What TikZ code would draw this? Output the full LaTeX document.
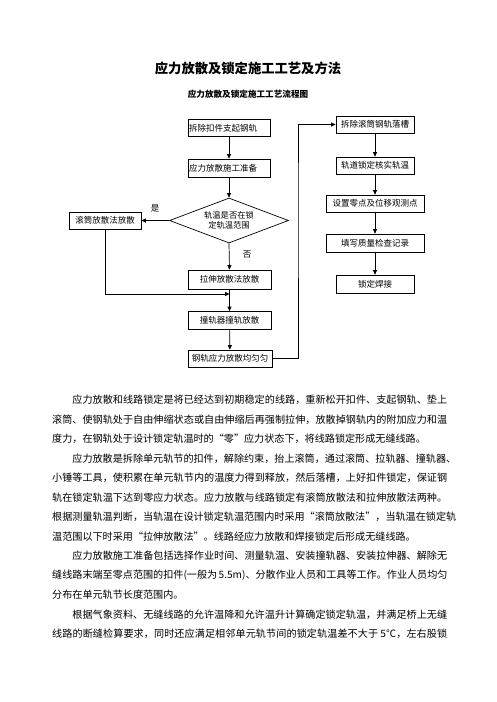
\documentclass[tikz,border=0pt]{standalone}
\usepackage{fontspec}
\setmainfont{Noto Sans CJK SC}
\usetikzlibrary{arrows.meta,shapes.geometric}
\newcount\cjkc
\cjkc="4E00
\loop \XeTeXcharclass\cjkc=1 \advance\cjkc by 1 \ifnum\cjkc<"A000 \repeat
\XeTeXcharclass"3001=1 \XeTeXcharclass"3002=1 \XeTeXcharclass"FF0C=1
\XeTeXcharclass"201C=1 \XeTeXcharclass"201D=1 \XeTeXcharclass"2103=1
\XeTeXinterchartoks 1 1 = {\hskip 0pt plus 1fil\relax}
\XeTeXinterchartoks 0 1 = {\hskip 0pt plus 1fil\relax}
\XeTeXinterchartoks 1 0 = {\hskip 0pt plus 1fil\relax}
\XeTeXinterchartokenstate=1
\newcommand\jfull[1]{\makebox[395pt][s]{#1}}
\newcommand\jind[1]{\makebox[374.8pt][s]{#1}}
\begin{document}
\begin{tikzpicture}[x=1pt,y=-1pt,
  box/.style={draw, line width=0.7pt, rectangle, inner sep=0pt, font=\fontsize{8.5pt}{10pt}\selectfont},
  arr/.style={line width=0.7pt, -{Triangle[length=4.5pt,width=4pt]}},
  lbl/.style={inner sep=0pt, font=\fontsize{8.5pt}{10pt}\selectfont},
  para/.style={anchor=west, inner sep=0pt, font=\fontsize{10.1pt}{12pt}\selectfont}]
\fill[white] (0,0) rectangle (496,702);
\useasboundingbox (0,0) rectangle (496,702);
% titles
\node[inner sep=0pt, font=\fontsize{13.3pt}{15pt}\selectfont\bfseries] (title) at (248,68) {\hbox{应力放散及锁定施工工艺及方法}};
\node[inner sep=0pt, font=\fontsize{8.6pt}{10pt}\selectfont\bfseries] (subtitle) at (248,94) {\hbox{应力放散及锁定施工工艺流程图}};
% left column
\node[box, minimum width=82pt, minimum height=17pt] (b1) at (229,128) {\makebox[80pt][l]{\hbox{拆除扣件支起钢轨}}};
\node[box, minimum width=82pt, minimum height=18pt] (b2) at (229,168) {\makebox[80pt][l]{\hbox{应力放散施工准备}}};
\node[diamond, draw, line width=0.7pt, minimum width=119pt, minimum height=45pt, aspect=2.6, inner sep=0pt, align=center, font=\fontsize{8.3pt}{10.5pt}\selectfont] (dia) at (229,220.5) {\hbox{轨温是否在锁}\\\hbox{定轨温范围}};
\node[box, minimum width=72pt, minimum height=17pt] (lb) at (105,220.5) {\hbox{滚筒放散法放散}};
\node[box, minimum width=83pt, minimum height=19pt] (b3) at (229.5,279.5) {\hbox{拉伸放散法放散}};
\node[box, minimum width=83pt, minimum height=18pt] (b4) at (229.5,320.5) {\hbox{撞轨器撞轨放散}};
\node[box, minimum width=84pt, minimum height=17pt] (b5) at (230,358.5) {\hbox{钢轨应力放散均匀匀}};
% right column
\node[box, minimum width=78pt, minimum height=17pt] (r1) at (375,124.5) {\hbox{拆除滚筒钢轨落槽}};
\node[box, minimum width=78pt, minimum height=17pt] (r2) at (375,165.5) {\hbox{轨道锁定核实轨温}};
\node[box, minimum width=98pt, minimum height=17pt] (r3) at (375,203.5) {\hbox{设置零点及位移观测点}};
\node[box, minimum width=98pt, minimum height=18pt] (r4) at (375,243) {\hbox{填写质量检查记录}};
\node[box, minimum width=78pt, minimum height=18pt] (r5) at (375,284) {\hbox{锁定焊接}};
% labels
\node[lbl] (yes) at (155,208) {是};
\node[lbl] (no) at (247,255) {否};
% connectors
\coordinate (j) at (229.5,294);
\coordinate (c1) at (298,200);
\draw[arr] (b1) -- (b2);
\draw[arr] (b2) -- (dia.north);
\draw[arr] (dia.west) -- (lb.east);
\draw[arr] (dia.south) -- (b3.north);
\draw[arr] (b3) -- (b4);
\draw[arr] (lb.south) |- (j);
\draw[arr] (b4) -- (b5);
\draw[arr] (b5.east) -| (c1) |- (r1.west);
\draw[arr] (r1) -- (r2);
\draw[arr] (r2) -- (r3);
\draw[arr] (r3) -- (r4);
\draw[arr] (r4) -- (r5);
% paragraphs
\node[para] (p1) at (72.2,400) {\jind{应力放散和线路锁定是将已经达到初期稳定的线路，重新松开扣件、支起钢轨、垫上}};
\node[para] (p2) at (52,419.5) {\jfull{滚筒、使钢轨处于自由伸缩状态或自由伸缩后再强制拉伸，放散掉钢轨内的附加应力和温}};
\node[para] (p3) at (52,439) {\hbox{度力，在钢轨处于设计锁定轨温时的“零”应力状态下，将线路锁定形成无缝线路。}};
\node[para] (p4) at (72.2,458.5) {\jind{应力放散是拆除单元轨节的扣件，解除约束，抬上滚筒，通过滚筒、拉轨器、撞轨器、}};
\node[para] (p5) at (52,478) {\jfull{小锤等工具，使积累在单元轨节内的温度力得到释放，然后落槽，上好扣件锁定，保证钢}};
\node[para] (p6) at (52,497.5) {\jfull{轨在锁定轨温下达到零应力状态。应力放散与线路锁定有滚筒放散法和拉伸放散法两种。}};
\node[para] (p7) at (52,517) {\jfull{根据测量轨温判断，当轨温在设计锁定轨温范围内时采用“滚筒放散法”，当轨温在锁定轨}};
\node[para] (p8) at (52,536.5) {\hbox{温范围以下时采用“拉伸放散法”。线路经应力放散和焊接锁定后形成无缝线路。}};
\node[para] (p9) at (72.2,556) {\jind{应力放散施工准备包括选择作业时间、测量轨温、安装撞轨器、安装拉伸器、解除无}};
\node[para] (p10) at (52,575.5) {\jfull{缝线路末端至零点范围的扣件(一般为 5.5m)、分散作业人员和工具等工作。作业人员均匀}};
\node[para] (p11) at (52,595) {\hbox{分布在单元轨节长度范围内。}};
\node[para] (p12) at (72.2,614.5) {\jind{根据气象资料、无缝线路的允许温降和允许温升计算确定锁定轨温，并满足桥上无缝}};
\node[para] (p13) at (52,634) {\jfull{线路的断缝检算要求，同时还应满足相邻单元轨节间的锁定轨温差不大于 5℃，左右股锁}};
\end{tikzpicture}
\end{document}
